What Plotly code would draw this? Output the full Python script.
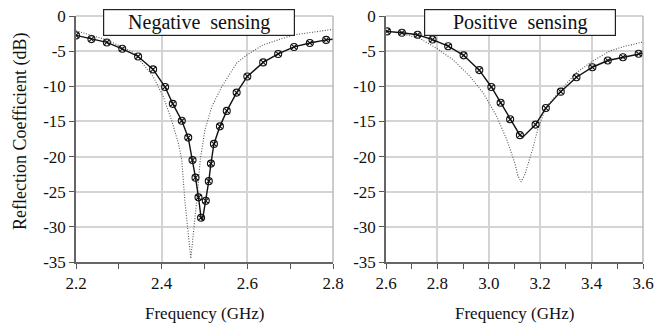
import plotly.graph_objects as go

# ---------------- data ----------------
# Negative sensing (left panel)
neg_meas_f = [2.200, 2.236, 2.272, 2.308, 2.345, 2.380, 2.408, 2.426, 2.447, 2.462,
              2.472, 2.479, 2.486, 2.492, 2.503, 2.510, 2.515, 2.522, 2.536, 2.552,
              2.575, 2.600, 2.637, 2.672, 2.709, 2.746, 2.784]
neg_meas_s = [-2.76, -3.29, -3.76, -4.67, -5.76, -7.6, -10.1, -12.5, -14.9, -17.3,
              -20.5, -23.0, -25.8, -28.7, -26.3, -23.5, -21.0, -18.2, -15.7, -13.5,
              -10.9, -8.6, -6.6, -5.4, -4.4, -3.84, -3.4]
neg_line_extra_f = [2.495, 2.800]
neg_line_extra_s = [-29.1, -3.3]

neg_sim_f = [2.200, 2.236, 2.272, 2.334, 2.349, 2.380, 2.404, 2.423, 2.439, 2.447,
             2.454, 2.468, 2.482, 2.490, 2.501, 2.517, 2.540, 2.575, 2.600, 2.637,
             2.707, 2.800]
neg_sim_s = [-2.1, -2.75, -3.4, -5.2, -6.26, -8.6, -11.5, -14.8, -18.1, -20.5,
             -26.2, -34.5, -26.2, -20.5, -16.2, -12.9, -10.1, -6.7, -5.5, -4.1,
             -2.7, -1.9]

# Positive sensing (right panel)
pos_meas_f = [2.604, 2.662, 2.723, 2.781, 2.842, 2.902, 2.963, 3.010, 3.046, 3.083,
              3.121, 3.182, 3.222, 3.280, 3.341, 3.403, 3.463, 3.522, 3.583]
pos_meas_s = [-2.19, -2.38, -2.67, -3.35, -4.3, -5.6, -7.7, -10.1, -12.35, -14.7,
              -16.95, -15.45, -13.1, -10.76, -8.71, -7.29, -6.33, -5.86, -5.38]
pos_line_extra_f = [2.600, 3.133, 3.600]
pos_line_extra_s = [-2.15, -17.2, -5.3]

pos_sim_f = [2.600, 2.660, 2.732, 2.797, 2.862, 2.927, 2.979, 3.031, 3.070, 3.102,
             3.112, 3.125, 3.140, 3.160, 3.170, 3.190, 3.222, 3.280, 3.340, 3.400,
             3.470, 3.530, 3.600]
pos_sim_s = [-2.1, -2.5, -3.2, -4.6, -6.26, -8.6, -11.0, -14.3, -17.6, -21.0,
             -22.6, -23.6, -22.6, -20.3, -19.0, -16.2, -13.0, -10.5, -8.1, -6.5,
             -5.0, -4.3, -3.7]

x1_ticks = [2.2, 2.4, 2.6, 2.8]
x2_ticks = [2.6, 2.8, 3.0, 3.2, 3.4, 3.6]
y_ticks = [0, -5, -10, -15, -20, -25, -30, -35]
y_ticktext = ["0", "-5", "-10", "-15", "-20", "-25", "-30", "-35"]
panel_titles = ["Negative\u00a0\u00a0sensing", "Positive\u00a0\u00a0sensing"]
x_title = "Frequency (GHz)"
y_title = "Reflection Coefficient (dB)"


def merged(f_a, s_a, f_b, s_b):
    pts = sorted(zip(list(f_a) + list(f_b), list(s_a) + list(s_b)))
    return [p[0] for p in pts], [p[1] for p in pts]


FONT = "Liberation Serif, Times New Roman, serif"
fig = go.Figure()

panels = [
    ("x", "y", neg_meas_f, neg_meas_s, neg_line_extra_f, neg_line_extra_s, neg_sim_f, neg_sim_s),
    ("x2", "y2", pos_meas_f, pos_meas_s, pos_line_extra_f, pos_line_extra_s, pos_sim_f, pos_sim_s),
]
for xa, ya, mf, ms, ef, es, sf, ss in panels:
    fig.add_trace(go.Scatter(x=sf, y=ss, xaxis=xa, yaxis=ya, mode="lines",
                             line=dict(color="#555555", width=1.1, dash="1px,1.6px"),
                             showlegend=False))
    lf, ls = merged(mf, ms, ef, es)
    fig.add_trace(go.Scatter(x=lf, y=ls, xaxis=xa, yaxis=ya, mode="lines",
                             line=dict(color="#111111", width=1.4),
                             showlegend=False))
    fig.add_trace(go.Scatter(x=mf, y=ms, xaxis=xa, yaxis=ya, mode="markers",
                             marker=dict(symbol="circle-x-open", size=7,
                                         color="#111111", line=dict(width=1.1)),
                             showlegend=False))

W, H = 669, 328
axis_common = dict(
    showgrid=True, gridcolor="#d4d4d4", gridwidth=1.5,
    showline=True, linecolor="#666666", linewidth=1.5,
    ticks="outside", ticklen=5, tickwidth=1.2, tickcolor="#555555",
    tickfont=dict(family=FONT, size=17, color="#111111"),
    zeroline=False, automargin=False,
)
xdom1 = [76 / W, 333 / W]
xdom2 = [386 / W, 643 / W]
ydom = [1 - 262 / H, 1 - 16 / H]

fig.update_layout(
    width=W, height=H, margin=dict(l=0, r=0, t=0, b=0),
    paper_bgcolor="white", plot_bgcolor="white",
    font=dict(family=FONT, size=17, color="#111111"),
    xaxis=dict(domain=xdom1, range=[2.2, 2.8], tickvals=x1_ticks,
               ticktext=[f"{v:.1f}" for v in x1_ticks],
               minor=dict(dtick=0.1, tick0=2.2, ticks="outside", ticklen=5,
                          tickcolor="#555555", showgrid=False),
               anchor="y", **axis_common),
    yaxis=dict(domain=ydom, range=[-35, 0], tickvals=y_ticks, ticktext=y_ticktext,
               anchor="x", **axis_common),
    xaxis2=dict(domain=xdom2, range=[2.6, 3.6], tickvals=x2_ticks,
                ticktext=[f"{v:.1f}" for v in x2_ticks],
                minor=dict(dtick=0.1, tick0=2.6, ticks="outside", ticklen=5,
                           tickcolor="#555555", showgrid=False),
                anchor="y2", **axis_common),
    yaxis2=dict(domain=ydom, range=[-35, 0], tickvals=y_ticks, ticktext=y_ticktext,
                anchor="x2", **axis_common),
)

# light top/right frame lines
for xr, yr in [("x domain", "y domain"), ("x2 domain", "y2 domain")]:
    fig.add_shape(type="line", xref=xr, yref=yr, x0=0, x1=1, y0=1, y1=1,
                  line=dict(color="#aaaaaa", width=1.2), layer="above")
    fig.add_shape(type="line", xref=xr, yref=yr, x0=1, x1=1, y0=0, y1=1,
                  line=dict(color="#aaaaaa", width=1.2), layer="above")

# panel title boxes
for cx, txt in [(199 / W, panel_titles[0]), (520 / W, panel_titles[1])]:
    fig.add_annotation(x=cx, y=1 - 22.5 / H, xref="paper", yref="paper",
                       text=txt, showarrow=False, xanchor="center", yanchor="middle",
                       font=dict(family=FONT, size=20, color="#111111"),
                       bgcolor="white", bordercolor="#222222", borderwidth=1.2,
                       borderpad=1, width=188, height=23)

# axis titles
for cx in [(xdom1[0] + xdom1[1]) / 2, (xdom2[0] + xdom2[1]) / 2]:
    fig.add_annotation(x=cx, y=1 - 313 / H, xref="paper", yref="paper",
                       text=x_title, showarrow=False, xanchor="center", yanchor="middle",
                       font=dict(family=FONT, size=17, color="#111111"))
fig.add_annotation(x=20 / W, y=1 - 131 / H, xref="paper", yref="paper",
                   text=y_title, showarrow=False, textangle=-90,
                   xanchor="center", yanchor="middle",
                   font=dict(family=FONT, size=18, color="#111111"))

fig.write_html("out.html")
